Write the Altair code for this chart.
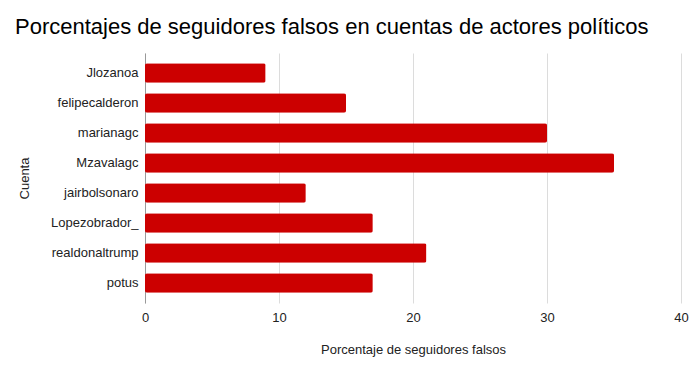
import altair as alt
import pandas as pd

cuentas = ["Jlozanoa", "felipecalderon", "marianagc", "Mzavalagc",
           "jairbolsonaro", "Lopezobrador_", "realdonaltrump", "potus"]
porcentajes = [9, 15, 30, 35, 12, 17, 21, 17]
x_ticks = [0, 10, 20, 30, 40]

df = pd.DataFrame({"Cuenta": cuentas, "Porcentaje": porcentajes})

FONT = "Liberation Sans"

chart = alt.Chart(df).mark_bar(color="#cc0000", cornerRadius=2).encode(
    x=alt.X("Porcentaje:Q",
            scale=alt.Scale(domain=[0, 40], nice=False),
            axis=alt.Axis(values=x_ticks, title="Porcentaje de seguidores falsos",
                          grid=True, gridColor="#dcdcdc", domain=False, ticks=False,
                          labelFlush=False,
                          labelPadding=8, labelFontSize=13, labelColor="#222222",
                          labelFont=FONT, titleFont=FONT, titleFontSize=13,
                          titleFontWeight="normal", titleColor="#222222",
                          titleY=46, titleBaseline="middle")),
    y=alt.Y("Cuenta:N", sort=cuentas,
            scale=alt.Scale(paddingInner=0.35, paddingOuter=0.34),
            axis=alt.Axis(title="Cuenta", domain=True, domainColor="#999999",
                          ticks=False, labelPadding=7, labelFontSize=13,
                          labelColor="#222222", labelFont=FONT, titleFont=FONT,
                          titleFontSize=13, titleFontWeight="normal",
                          titleColor="#222222", titleAngle=-90, titleX=-121,
                          titleY=125, titleAlign="center", titleBaseline="middle")),
).properties(
    width=536,
    height=250,
    title=alt.TitleParams(
        "Porcentajes de seguidores falsos en cuentas de actores políticos",
        anchor="start", dx=-3, offset=14, font=FONT, fontSize=22,
        fontWeight="normal", color="#000000"),
    autosize=alt.AutoSizeParams(type="none"),
    padding={"left": 137, "top": 45, "right": 10, "bottom": 60},
).configure_view(stroke=None)

chart.save("out.html", embed_options={"renderer": "svg", "actions": False})
